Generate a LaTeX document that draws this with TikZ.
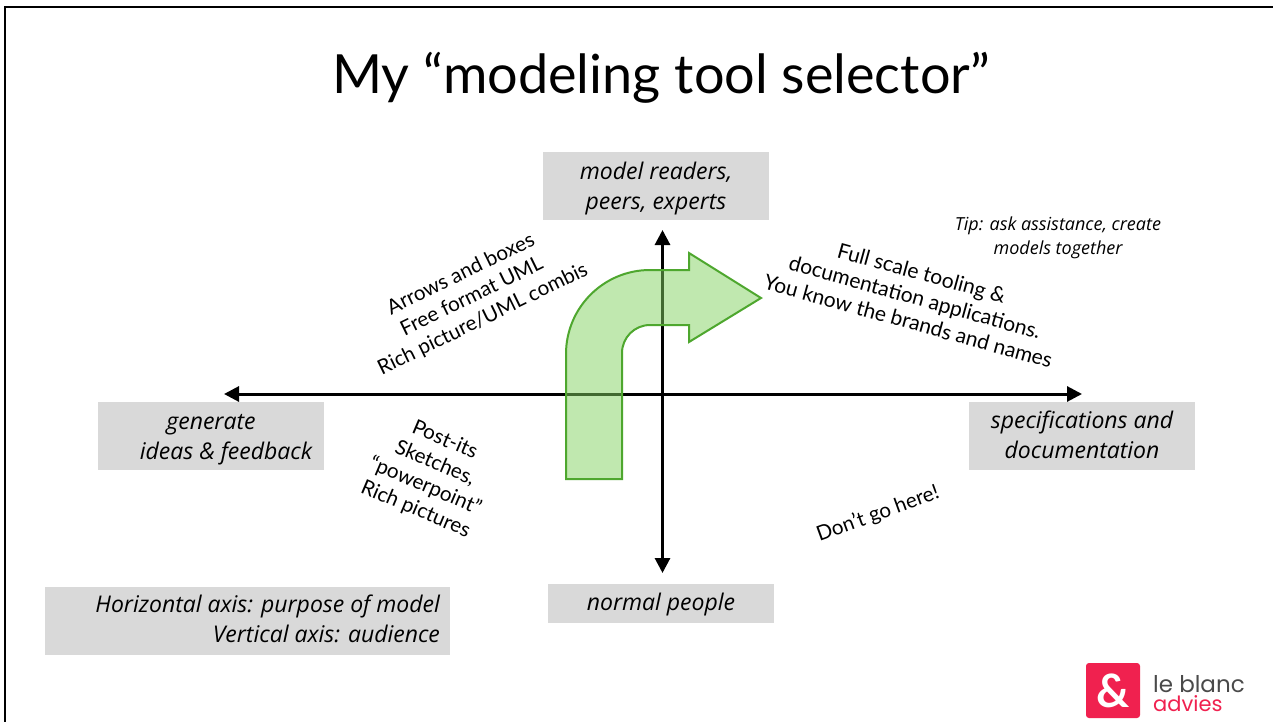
\documentclass[tikz,border=0pt]{standalone}
\usepackage{fontspec}
\setmainfont{Lato}
\newfontfamily\logofont{Poppins}
\newfontfamily\italfont{Open Sans}
\usetikzlibrary{arrows.meta}
\definecolor{boxgray}{HTML}{D9D9D9}
\definecolor{arrowgreen}{HTML}{4EA72E}
\definecolor{arrowfill}{HTML}{83D361}
\definecolor{logored}{HTML}{F0214F}
\definecolor{logogray}{HTML}{4A4A4A}
\newcommand{\lowertext}[3]{\vbox{\vskip #1pt\hbox{\begin{tabular}{@{}#2@{}}#3\end{tabular}}}}
\tikzset{
  labelbox/.style={fill=boxgray,inner sep=0pt,align=center,font=\italfont\fontsize{23}{30}\selectfont\itshape,anchor=center},
  axisline/.style={line width=3pt,-{Triangle[length=15pt,width=15pt]},shorten >=0pt},
  slanted/.style={inner sep=0pt,align=center,font=\fontsize{20.6}{25}\selectfont},
}
\begin{document}
\begin{tikzpicture}[x=1pt,y=-1pt]
\useasboundingbox (0,0) rectangle (1273,722);
\fill[white] (0,0) rectangle (1273,722);
\draw[line width=2pt] (5,722) -- (5,7) -- (1273,7);
\node[font=\fontsize{54}{60}\selectfont] (title) at (661,78) {My “modeling tool selector”};
\node[labelbox,minimum width=226pt,minimum height=68pt] (top) at (656,186) {\lowertext{4}{c}{model readers,\\peers, experts}};
\node[labelbox,minimum width=226pt,minimum height=68pt] (left) at (211,436) {\lowertext{5}{c}{generate\hspace{30pt}\\\hspace{30pt}ideas \& feedback}};
\node[labelbox,minimum width=226pt,minimum height=68pt] (right) at (1082,436) {\lowertext{2}{c}{specifications and\\documentation}};
\node[labelbox,minimum width=226pt,minimum height=39pt] (bottom) at (661,603.5) {\lowertext{2}{c}{normal people}};
\node[labelbox,minimum width=405pt,minimum height=68pt] (legend) at (247.5,621) {\makebox[385pt][r]{\lowertext{1}{r}{Horizontal axis: purpose of model\\Vertical axis: audience}}};
\coordinate (west) at (224,394);
\coordinate (east) at (1082,394);
\coordinate (north) at (662.5,230);
\coordinate (south) at (662.5,573);
\coordinate (origin) at (662.5,394);
\draw[axisline] (origin) -- (west);
\draw[axisline] (origin) -- (east);
\draw[axisline] (origin) -- (north);
\draw[axisline] (origin) -- (south);
\path[draw=arrowgreen,line width=2pt,fill=arrowfill,fill opacity=.5,line join=miter]
  (566,479) -- (566,354) arc[start angle=180,end angle=270,radius=84] -- (689,270) -- (689,253) -- (761,298) -- (689,342) -- (689,325) -- (650,325)
  arc[start angle=270,end angle=180,radius=28] -- (622,479) -- cycle;
\node[slanted,rotate=26] (tl) at (472,297) {Arrows and boxes\\Free format UML\\Rich picture/UML combis};
\node[slanted,rotate=-23] (bl) at (430,475) {Post-its\\Sketches,\\“powerpoint”\\Rich pictures};
\node[slanted,rotate=-15.5,font=\fontsize{21}{25}\selectfont] (tr) at (915,297) {Full scale tooling \&\\documentation applications.\\You know the brands and names};
\node[slanted,rotate=20] (br) at (878,514) {Don’t go here!};
\node[inner sep=0pt,align=center,font=\italfont\fontsize{18}{24}\selectfont\itshape] (tip) at (1058,238) {Tip: ask assistance, create\\models together};
\node[fill=logored,rounded corners=3pt,minimum width=54pt,minimum height=55pt,inner sep=0pt,text=white,font=\fontsize{46}{46}\selectfont\bfseries] (logo) at (1113,690.5) {\&};
\node[inner sep=0pt,anchor=west,text=logogray,font=\logofont\fontsize{23}{23}\selectfont] (lb) at (1153,684) {le blanc};
\node[inner sep=0pt,anchor=west,text=logored,font=\logofont\fontsize{21}{21}\selectfont] (adv) at (1153,704) {advies};
\end{tikzpicture}
\end{document}
